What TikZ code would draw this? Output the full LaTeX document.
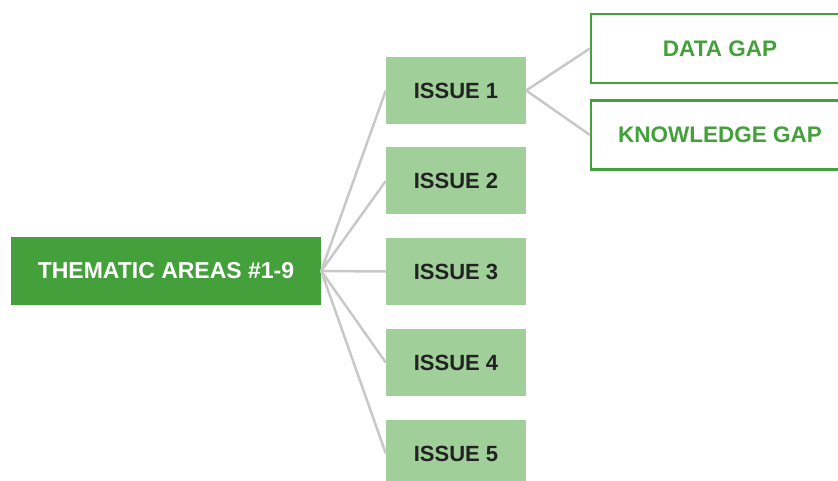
\documentclass[tikz,border=0pt]{standalone}
\usepackage{fontspec}
\setmainfont{Liberation Sans}
\definecolor{maingreen}{HTML}{43A03A}
\definecolor{lightgreen}{HTML}{A1CF9A}
\definecolor{darktext}{HTML}{222222}
\definecolor{linegray}{HTML}{C8C8C8}
\begin{document}
\begin{tikzpicture}[x=1pt,y=1pt,
  mainbox/.style={fill=maingreen, text=white, minimum width=310pt, minimum height=68pt, inner sep=0pt, font=\fontsize{23}{27}\selectfont\bfseries},
  issuebox/.style={fill=lightgreen, text=darktext, minimum width=140pt, minimum height=67pt, inner sep=0pt, font=\fontsize{22}{26}\selectfont\bfseries},
  gapbox/.style={draw=maingreen, line width=2.2pt, fill=white, text=maingreen, minimum width=258pt, minimum height=69pt, inner sep=0pt, font=\fontsize{22.5}{26}\selectfont\bfseries},
  link/.style={draw=linegray, line width=2.5pt}
]
\useasboundingbox (0,0) rectangle (838,481);
\node[mainbox] (main) at (166,210) {THEMATIC AREAS \#1-9};
\node[issuebox] (i1) at (456,390.5) {ISSUE 1};
\node[issuebox] (i2) at (456,300) {ISSUE 2};
\node[issuebox] (i3) at (456,209.5) {ISSUE 3};
\node[issuebox] (i4) at (456,118.5) {ISSUE 4};
\node[issuebox] (i5) at (456,27.5) {ISSUE 5};
\node[gapbox] (data) at (720,432.5) {DATA GAP};
\node[gapbox] (know) at (720,346) {KNOWLEDGE GAP};
\foreach \n in {i1,i2,i3,i4,i5} {\draw[link] (main.east) -- (\n.west);}
\draw[link] (i1.east) -- (data.west);
\draw[link] (i1.east) -- (know.west);
\end{tikzpicture}
\end{document}
